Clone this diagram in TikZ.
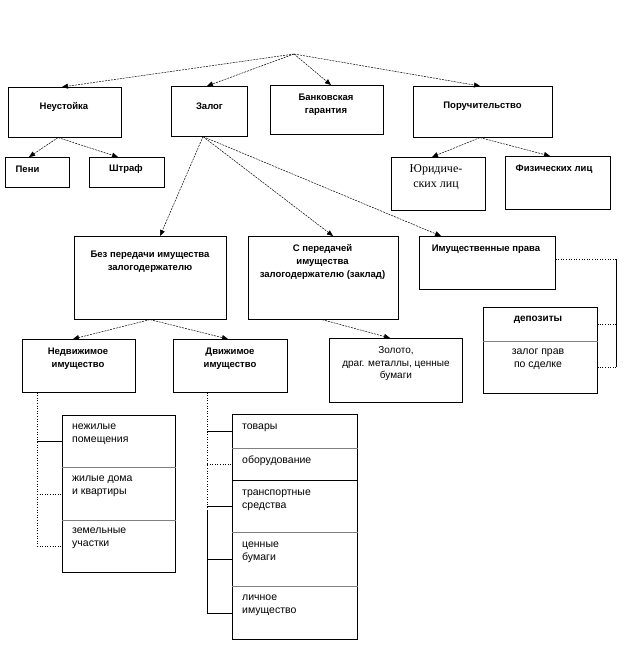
\documentclass[tikz,border=0pt]{standalone}
\usepackage{fontspec}
\setmainfont{Liberation Sans}
\newfontfamily\serifrus{Liberation Serif}
\usetikzlibrary{arrows.meta,calc}
\begin{document}
\begin{tikzpicture}[x=1pt,y=-1pt,
  box/.style={draw, line width=0.6pt, anchor=north west, inner sep=0pt},
  lbl/.style={font=\fontsize{9.5}{13}\selectfont\bfseries, inner sep=0pt, align=center},
  txt/.style={font=\fontsize{10}{12.5}\selectfont, inner sep=0pt, align=center},
  ltxt/.style={font=\fontsize{10.5}{13}\selectfont, inner sep=0pt, align=left, anchor=west},
  arr/.style={dash pattern=on 2pt off 1pt, line width=0.5pt, -{Triangle[length=6pt,width=5pt]}},
  sep/.style={draw=gray, line width=1.2pt},
  tree/.style={line width=0.6pt},
  treedot/.style={dotted, line width=0.6pt}]
\fill[white] (0,0) rectangle (628,649);
\useasboundingbox (0,0) rectangle (628,649);

\coordinate (root) at (294,54);

% top level boxes
\node[box, minimum width=113pt, minimum height=50pt] (neust) at (8,87) {};
\node[box, minimum width=76pt, minimum height=50pt] (zalog) at (171,86) {};
\node[box, minimum width=113pt, minimum height=49pt] (bank) at (270,85) {};
\node[box, minimum width=139pt, minimum height=51pt] (poruch) at (413,86) {};

\node[lbl] (tneust) at (64,107) {Неустойка};
\node[lbl] (tzalog) at (209.5,106) {Залог};
\node[lbl] (tbank) at (326,105) {Банковская\\гарантия};
\node[lbl] (tporuch) at (482.5,106) {Поручительство};

% second level
\node[box, minimum width=64pt, minimum height=30pt] (peni) at (5,157) {};
\node[box, minimum width=75pt, minimum height=30pt] (shtraf) at (89,157) {};
\node[box, minimum width=94pt, minimum height=53pt] (yur) at (391,157) {};
\node[box, minimum width=105pt, minimum height=53pt] (fiz) at (505,156) {};

\node[lbl] (tpeni) at (27.5,169) {Пени};
\node[lbl] (tshtraf) at (126,169) {Штраф};
\node[inner sep=0pt, align=center, font=\serifrus\fontsize{12}{15}\selectfont] (tyur) at (436,177) {Юридиче-\\ских лиц};
\node[lbl] (tfiz) at (554,169) {Физических лиц};

% zalog children
\node[box, minimum width=152pt, minimum height=83pt] (bez) at (74,236) {};
\node[box, minimum width=150pt, minimum height=83pt] (sper) at (248,236) {};
\node[box, minimum width=136pt, minimum height=53pt] (imprav) at (419,236) {};

\node[lbl] (tbez) at (150,261.5) {Без передачи имущества\\залогодержателю};
\node[lbl] (tsper) at (322.5,262) {С передачей\\имущества\\залогодержателю (заклад)};
\node[lbl] (timprav) at (486,249) {Имущественные права};

% third level
\node[box, minimum width=113pt, minimum height=53pt] (nedv) at (22,339) {};
\node[box, minimum width=114pt, minimum height=53pt] (dvizh) at (173,339) {};
\node[box, minimum width=133pt, minimum height=64pt] (zoloto) at (329,338) {};
\node[box, minimum width=114pt, minimum height=34pt] (depo) at (483,307) {};
\node[box, minimum width=114pt, minimum height=52pt] (zpr) at (483,341) {};
\draw[sep] (depo.south west) -- (depo.south east);

\node[lbl] (tnedv) at (78,358.5) {Недвижимое\\имущество};
\node[lbl] (tdvizh) at (230,358.5) {Движимое\\имущество};
\node[txt] (tzoloto) at (396,364) {Золото,\\драг. металлы, ценные\\бумаги};
\node[lbl, font=\fontsize{10}{13}\selectfont\bfseries] (tdepo) at (538,320) {депозиты};
\node[txt, font=\fontsize{10.5}{13}\selectfont] (tzpr) at (538,359.5) {залог прав\\по сделке};

% immovable stack
\node[box, minimum width=113pt, minimum height=52pt] (nezh) at (62,415) {};
\node[box, minimum width=113pt, minimum height=53pt] (zhil) at (62,467) {};
\node[box, minimum width=113pt, minimum height=52pt] (zem) at (62,520) {};
\draw[sep] (nezh.south west) -- (nezh.south east);
\draw[sep] (zhil.south west) -- (zhil.south east);

\node[ltxt] (tnezh) at (72,434.5) {нежилые\\помещения};
\node[ltxt] (tzhil) at (72,486.5) {жилые дома\\и квартиры};
\node[ltxt] (tzem) at (72,538.5) {земельные\\участки};

% movable stack
\node[box, minimum width=125pt, minimum height=34pt] (tov) at (232,414) {};
\node[box, minimum width=125pt, minimum height=32pt] (obor) at (232,448) {};
\node[box, minimum width=125pt, minimum height=52pt] (trans) at (232,480) {};
\node[box, minimum width=125pt, minimum height=54pt] (cenn) at (232,532) {};
\node[box, minimum width=125pt, minimum height=53pt] (lich) at (232,586) {};
\draw[sep] (tov.south west) -- (tov.south east);
\draw[sep] (trans.south west) -- (trans.south east);
\draw[sep] (cenn.south west) -- (cenn.south east);

\node[ltxt] (ttov) at (242,428) {товары};
\node[ltxt] (tobor) at (242,461) {оборудование};
\node[ltxt] (ttrans) at (242,500.5) {транспортные\\средства};
\node[ltxt] (tcenn) at (242,552.5) {ценные\\бумаги};
\node[ltxt] (tlich) at (242,605.5) {личное\\имущество};

% arrows from root
\draw[arr] (root) -- ($(neust.north west)+(54,0)$);
\draw[arr] (root) -- ($(zalog.north west)+(36,0)$);
\draw[arr] (root) -- ($(bank.north west)+(61,0)$);
\draw[arr] (root) -- ($(poruch.north west)+(67,0)$);

% neustoika
\coordinate (nsrc) at ($(neust.south west)+(50,0)$);
\draw[arr] (nsrc) -- ($(peni.north west)+(24,0)$);
\draw[arr] (nsrc) -- ($(shtraf.north west)+(29,0)$);

% poruch
\coordinate (psrc) at ($(poruch.south west)+(67,0)$);
\draw[arr] (psrc) -- ($(yur.north west)+(41,0)$);
\draw[arr] (psrc) -- ($(fiz.north west)+(45,0)$);

% zalog
\coordinate (zsrc) at ($(zalog.south west)+(32,0)$);
\draw[arr] (zsrc) -- ($(bez.north west)+(86,0)$);
\draw[arr] (zsrc) -- ($(sper.north west)+(85,0)$);
\draw[arr] (zsrc) -- ($(imprav.north west)+(22,0)$);

% bez
\coordinate (bsrc) at ($(bez.south west)+(76,0)$);
\draw[arr] (bsrc) -- ($(nedv.north west)+(51,0)$);
\draw[arr] (bsrc) -- ($(dvizh.north west)+(55,0)$);

% sper
\coordinate (ssrc) at ($(sper.south west)+(74,0)$);
\draw[arr] (ssrc) -- ($(zoloto.north west)+(61,0)$);

% imprav connector
\coordinate (irt) at (616,259);
\coordinate (ibot) at (616,367);
\draw[treedot] (imprav.east |- irt) -- (irt);
\draw[tree] (irt) -- (ibot);
\draw[treedot] (irt |- depo.east) -- (depo.east);
\draw[treedot] (irt |- zpr.east) -- (zpr.east);

% immovable tree
\coordinate (ntop) at ($(nedv.south west)+(15,0)$);
\draw[treedot] (ntop) -- (ntop |- zem.west);
\draw[tree] (ntop |- nezh.west) -- (nezh.west);
\draw[treedot] (ntop |- zhil.west) -- (zhil.west);
\draw[treedot] (ntop |- zem.west) -- (zem.west);

% movable tree
\coordinate (dtop) at ($(dvizh.south west)+(34,0)$);
\coordinate (dmid) at (dtop |- 0,510);
\draw[treedot] (dtop) -- (dmid);
\draw[tree] (dmid) -- (dtop |- lich.west);
\draw[tree] (dtop |- tov.west) -- (tov.west);
\draw[treedot] (dtop |- obor.west) -- (obor.west);
\draw[tree] (dtop |- trans.west) -- (trans.west);
\draw[tree] (dtop |- cenn.west) -- (cenn.west);
\draw[tree] (dtop |- lich.west) -- (lich.west);
\end{tikzpicture}
\end{document}
